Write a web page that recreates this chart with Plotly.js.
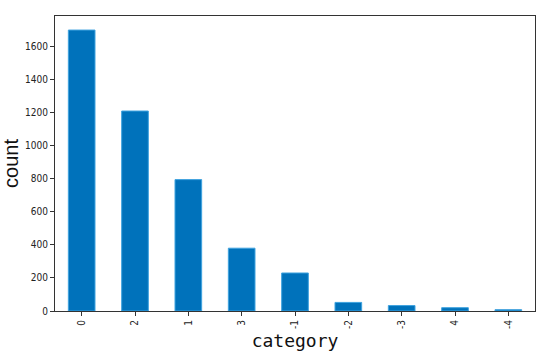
<!DOCTYPE html>
<html>
<head>
<meta charset="utf-8">
<script src="https://cdn.plot.ly/plotly-3.0.1.min.js"></script>
<style>
  html, body { margin: 0; padding: 0; background: #fff; }
  #plot { width: 550px; height: 360px; }
</style>
</head>
<body>
<div id="plot"></div>
<script>
// category counts, sorted as in the picture
const categories = ['0', '2', '1', '3', '-1', '-2', '-3', '4', '-4'];
const counts = [1700, 1210, 795, 380, 230, 52, 33, 20, 8];
const yTicks = [0, 200, 400, 600, 800, 1000, 1200, 1400, 1600];

const data = [{
  type: 'bar',
  x: categories,
  y: counts,
  width: 0.5,
  marker: {
    color: '#0072BB',
    line: { color: '#3FA3DF', width: 1 }
  }
}];

const layout = {
  width: 550,
  height: 360,
  margin: { l: 55, r: 15, t: 16, b: 49 },
  paper_bgcolor: '#fff',
  plot_bgcolor: '#fff',
  showlegend: false,
  bargap: 0.5,
  font: { family: 'Liberation Sans Narrow, DejaVu Sans Condensed, sans-serif', size: 10, color: '#222' },
  xaxis: {
    type: 'category',
    tickangle: -90,
    ticks: 'outside',
    ticklen: 4,
    tickcolor: '#333',
    showline: true,
    linecolor: '#333',
    linewidth: 1,
    mirror: true,
    showgrid: false,
    zeroline: false,
    tickfont: { size: 10 },
    title: {
      text: 'category',
      font: { family: 'DejaVu Sans Mono, Liberation Mono, monospace', size: 18, color: '#111' },
      standoff: 6
    }
  },
  yaxis: {
    range: [0, 1785],
    tickvals: yTicks,
    ticks: 'outside',
    ticklen: 4,
    tickcolor: '#333',
    showline: true,
    linecolor: '#333',
    linewidth: 1,
    mirror: true,
    showgrid: false,
    zeroline: false,
    tickfont: { size: 10 },
    title: {
      text: 'count',
      font: { family: 'Liberation Sans, Arial, sans-serif', size: 20, color: '#111' },
      standoff: 10
    }
  }
};

Plotly.newPlot('plot', data, layout, { displayModeBar: false, staticPlot: true });
</script>
</body>
</html>
